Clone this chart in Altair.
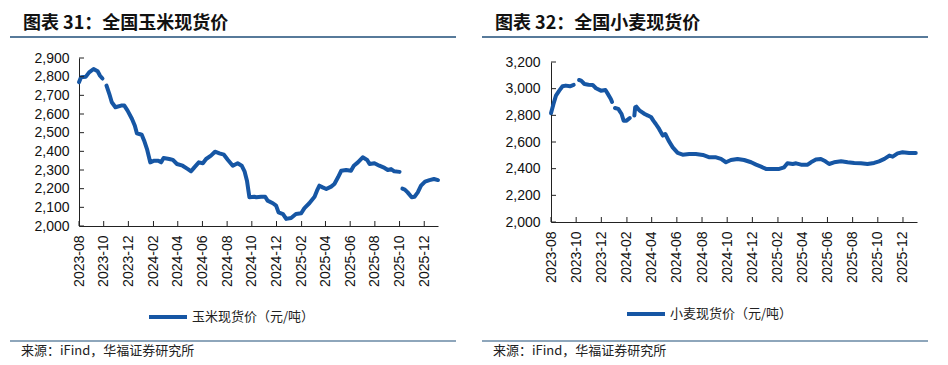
import altair as alt
import pandas as pd

# ---------------- data ----------------
corn_dates = [
    "2023-08-01", "2023-08-06", "2023-08-18", "2023-08-26", "2023-09-06", "2023-09-16",
    "2023-09-22", "2023-09-28", "2023-10-04", "2023-10-08", "2023-10-15", "2023-10-21",
    "2023-10-30", "2023-11-13", "2023-11-21", "2023-11-29", "2023-12-10", "2023-12-17",
    "2023-12-22", "2024-01-03", "2024-01-09", "2024-01-16", "2024-01-24", "2024-02-03",
    "2024-02-13", "2024-02-20", "2024-02-26", "2024-03-11", "2024-03-20", "2024-03-30",
    "2024-04-13", "2024-04-26", "2024-05-04", "2024-05-12", "2024-05-23", "2024-06-02",
    "2024-06-10", "2024-06-22", "2024-07-02", "2024-07-13", "2024-07-24", "2024-08-03",
    "2024-08-15", "2024-08-27", "2024-09-06", "2024-09-13", "2024-09-19", "2024-09-25",
    "2024-10-07", "2024-10-12", "2024-10-24", "2024-11-03", "2024-11-09", "2024-11-22",
    "2024-11-30", "2024-12-06", "2024-12-17", "2024-12-25", "2025-01-06", "2025-01-18",
    "2025-01-31", "2025-02-08", "2025-02-20", "2025-03-05", "2025-03-11", "2025-03-17",
    "2025-03-25", "2025-04-03", "2025-04-15", "2025-04-23", "2025-05-02", "2025-05-10",
    "2025-05-22", "2025-06-03", "2025-06-10", "2025-06-20", "2025-07-02", "2025-07-13",
    "2025-07-19", "2025-07-31", "2025-08-12", "2025-08-25", "2025-09-02", "2025-09-10",
    "2025-09-18", "2025-10-01", "2025-10-04", "2025-10-08", "2025-10-14", "2025-10-21",
    "2025-10-31", "2025-11-07", "2025-11-15", "2025-11-23", "2025-12-03", "2025-12-14",
    "2025-12-25", "2026-01-04",
]
corn_values = [
    2770, 2797, 2800, 2823, 2841, 2829,
    2805, 2790, None, 2752, 2707, 2663,
    2636, 2645, 2645, 2618, 2573, 2537,
    2497, 2489, 2457, 2412, 2341, 2350,
    2350, 2341, 2364, 2359, 2354, 2332,
    2323, 2305, 2293, 2314, 2341, 2336,
    2359, 2377, 2398, 2389, 2382, 2354,
    2323, 2336, 2323, 2293, 2243, 2154,
    2157, 2154, 2157, 2157, 2136, 2122,
    2109, 2073, 2064, 2038, 2043, 2064,
    2068, 2096, 2122, 2157, 2189, 2216,
    2207, 2198, 2211, 2225, 2261, 2296,
    2300, 2296, 2323, 2341, 2368, 2354,
    2332, 2336, 2323, 2311, 2300, 2305,
    2293, 2290, None, 2200, 2195, 2180,
    2154, 2157, 2180, 2216, 2238, 2246,
    2252, 2246,
]

wheat_dates = [
    "2023-08-01", "2023-08-07", "2023-08-13", "2023-08-21", "2023-08-29", "2023-09-06",
    "2023-09-16", "2023-09-25", "2023-10-01", "2023-10-08", "2023-10-13", "2023-10-21",
    "2023-10-31", "2023-11-10", "2023-11-18", "2023-11-30", "2023-12-11", "2023-12-16",
    "2023-12-24", "2023-12-27", "2023-12-30", "2024-01-03", "2024-01-11", "2024-01-19",
    "2024-01-24", "2024-01-31", "2024-02-08", "2024-02-13", "2024-02-19", "2024-02-21",
    "2024-02-24", "2024-03-03", "2024-03-15", "2024-03-23", "2024-03-31", "2024-04-05",
    "2024-04-11", "2024-04-19", "2024-04-28", "2024-05-04", "2024-05-12", "2024-05-22",
    "2024-06-03", "2024-06-15", "2024-07-01", "2024-07-17", "2024-08-03", "2024-08-19",
    "2024-09-04", "2024-09-16", "2024-09-28", "2024-10-10", "2024-10-26", "2024-11-11",
    "2024-11-28", "2024-12-10", "2024-12-22", "2025-01-03", "2025-01-19", "2025-02-04",
    "2025-02-16", "2025-02-24", "2025-03-09", "2025-03-17", "2025-03-29", "2025-04-14",
    "2025-04-22", "2025-05-04", "2025-05-16", "2025-05-27", "2025-06-05", "2025-06-17",
    "2025-07-04", "2025-07-20", "2025-08-05", "2025-08-21", "2025-09-06", "2025-09-22",
    "2025-10-04", "2025-10-17", "2025-10-29", "2025-11-06", "2025-11-18", "2025-11-30",
    "2025-12-16", "2026-01-01",
]
wheat_values = [
    2815, 2885, 2948, 2985, 3018, 3023,
    3018, 3028, None, 3065, 3060, 3035,
    3030, 3028, 3003, 2985, 2990, 2965,
    2923, 2900, None, 2855, 2848, 2810,
    2760, 2760, 2780, None, 2798, 2860,
    2865, 2835, 2810, 2798, 2785, 2760,
    2735, 2698, 2648, 2660, 2610, 2560,
    2518, 2505, 2510, 2510, 2503, 2485,
    2485, 2473, 2448, 2465, 2473, 2465,
    2448, 2430, 2415, 2398, 2398, 2398,
    2410, 2440, 2435, 2440, 2430, 2430,
    2448, 2468, 2473, 2455, 2435, 2448,
    2455, 2448, 2443, 2440, 2435, 2443,
    2455, 2473, 2498, 2490, 2515, 2523,
    2518, 2518,
]

x_tick_labels = [
    "2023-08", "2023-10", "2023-12", "2024-02", "2024-04", "2024-06", "2024-08",
    "2024-10", "2024-12", "2025-02", "2025-04", "2025-06", "2025-08", "2025-10", "2025-12",
]
corn_y_ticks = [2000, 2100, 2200, 2300, 2400, 2500, 2600, 2700, 2800, 2900]
wheat_y_ticks = [2000, 2200, 2400, 2600, 2800, 3000, 3200]

titles = ["图表 31：全国玉米现货价", "图表 32：全国小麦现货价"]
legend_labels = ["玉米现货价（元/吨）", "小麦现货价（元/吨）"]
source_text = "来源：iFind，华福证券研究所"

# ---------------- styling ----------------
LINE_COLOR = "#1656A4"
RULE_COLOR = "#1F4E79"
AXIS_FONT = "Liberation Sans"
CJK_FONT = "Noto Sans CJK SC"


def series_frame(dates, values):
    rows, seg = [], 0
    for d, v in zip(dates, values):
        if v is None:
            seg += 1
            continue
        rows.append({"date": d, "value": v, "seg": seg})
    return pd.DataFrame(rows)


def dt(s, day=1):
    return alt.DateTime(year=int(s[:4]), month=int(s[5:7]), date=day, utc=True)


X_DOMAIN = [alt.DateTime(year=2023, month=8, date=1, utc=True),
            alt.DateTime(year=2026, month=1, date=4, utc=True)]


def make_panel(df, yticks, w, h, top_gap, title, legend, lay):
    x_scale = alt.Scale(type="utc", domain=X_DOMAIN, nice=False)
    y_scale = alt.Scale(domain=[yticks[0], yticks[-1]], nice=False, zero=False,
                        range=[h, top_gap])
    x_axis = alt.Axis(
        values=[dt(s) for s in x_tick_labels], format="%Y-%m", formatType="utc",
        labelExpr="utcFormat(datum.value, '%Y-%m')",
        labelAngle=270, labelPadding=9, labelFlush=False, labelOverlap=False,
        labelFont=AXIS_FONT, labelFontSize=14, labelColor="#111",
        ticks=False, tickSize=0, grid=False, title=None,
        domainColor="#222", domainWidth=1,
    )
    y_axis = alt.Axis(
        values=yticks, format=",", labelExpr="format(datum.value, ',')",
        labelPadding=lay["ylabpad"], labelFlush=False,
        labelOverlap=False, labelFont=AXIS_FONT, labelFontSize=14, labelColor="#111",
        ticks=False, tickSize=0, grid=False, title=None,
        domainColor="#222", domainWidth=1,
    )

    line = alt.Chart(df).mark_line(
        color=LINE_COLOR, strokeWidth=4, strokeCap="round", strokeJoin="round"
    ).encode(
        x=alt.X("date:T", scale=x_scale, axis=x_axis),
        y=alt.Y("value:Q", scale=y_scale, axis=y_axis),
        detail="seg:N",
    )

    ytick_df = pd.DataFrame({"value": yticks})
    yticks_layer = alt.Chart(ytick_df).mark_rule(color="#222", strokeWidth=1).encode(
        y=alt.Y("value:Q", scale=y_scale, axis=None), x=alt.value(0), x2=alt.value(5)
    )
    xtick_df = pd.DataFrame({"date": [s + "-01" for s in x_tick_labels]})
    xticks_layer = alt.Chart(xtick_df).mark_rule(color="#222", strokeWidth=1).encode(
        x=alt.X("date:T", scale=x_scale, axis=None), y=alt.value(h), y2=alt.value(h - 5)
    )

    one = pd.DataFrame({"k": [0]})
    title_layer = alt.Chart(one).mark_text(
        text=title, align="left", baseline="middle", font=CJK_FONT,
        fontSize=18, fontWeight="bold", color="#111",
    ).encode(x=alt.value(-56), y=alt.value(-34))
    head_rule = alt.Chart(one).mark_rule(color=RULE_COLOR, strokeWidth=1.5).encode(
        x=alt.value(-69), x2=alt.value(lay["rule_x2"]), y=alt.value(-21)
    )
    foot_rule = alt.Chart(one).mark_rule(color=RULE_COLOR, strokeWidth=1.2).encode(
        x=alt.value(-69), x2=alt.value(lay["rule_x2"]), y=alt.value(283)
    )
    foot_text = alt.Chart(one).mark_text(
        text=source_text, align="left", baseline="middle", font=CJK_FONT,
        fontSize=13, color="#222",
    ).encode(x=alt.value(-58), y=alt.value(293))
    leg_line = alt.Chart(one).mark_rule(color=LINE_COLOR, strokeWidth=4).encode(
        x=alt.value(lay["leg_x"]), x2=alt.value(lay["leg_x"] + 38), y=alt.value(lay["leg_y"])
    )
    leg_text = alt.Chart(one).mark_text(
        text=legend, align="left", baseline="middle", font=CJK_FONT,
        fontSize=13, color="#222",
    ).encode(x=alt.value(lay["leg_x"] + 43), y=alt.value(lay["leg_y"]))

    return alt.layer(
        line, yticks_layer, xticks_layer, title_layer, head_rule,
        foot_rule, foot_text, leg_line, leg_text,
    ).resolve_axis(x="independent", y="independent").properties(width=w, height=h)


corn_df = series_frame(corn_dates, corn_values)
wheat_df = series_frame(wheat_dates, wheat_values)

left = make_panel(
    corn_df, corn_y_ticks, 359, 168, 0, titles[0], legend_labels[0],
    dict(ylabpad=10, rule_x2=359 + 18, leg_x=70, leg_y=259),
)
right = make_panel(
    wheat_df, wheat_y_ticks, 366, 164, 4, titles[1], legend_labels[1],
    dict(ylabpad=11, rule_x2=366 + 11, leg_x=76, leg_y=256),
)

chart = alt.hconcat(left, right, spacing=24).properties(
    padding={"left": 1, "top": 7, "right": 0, "bottom": 0},
    background="white",
).configure_view(stroke=None)

chart.save("out.html", embed_options={"renderer": "svg", "actions": False})
